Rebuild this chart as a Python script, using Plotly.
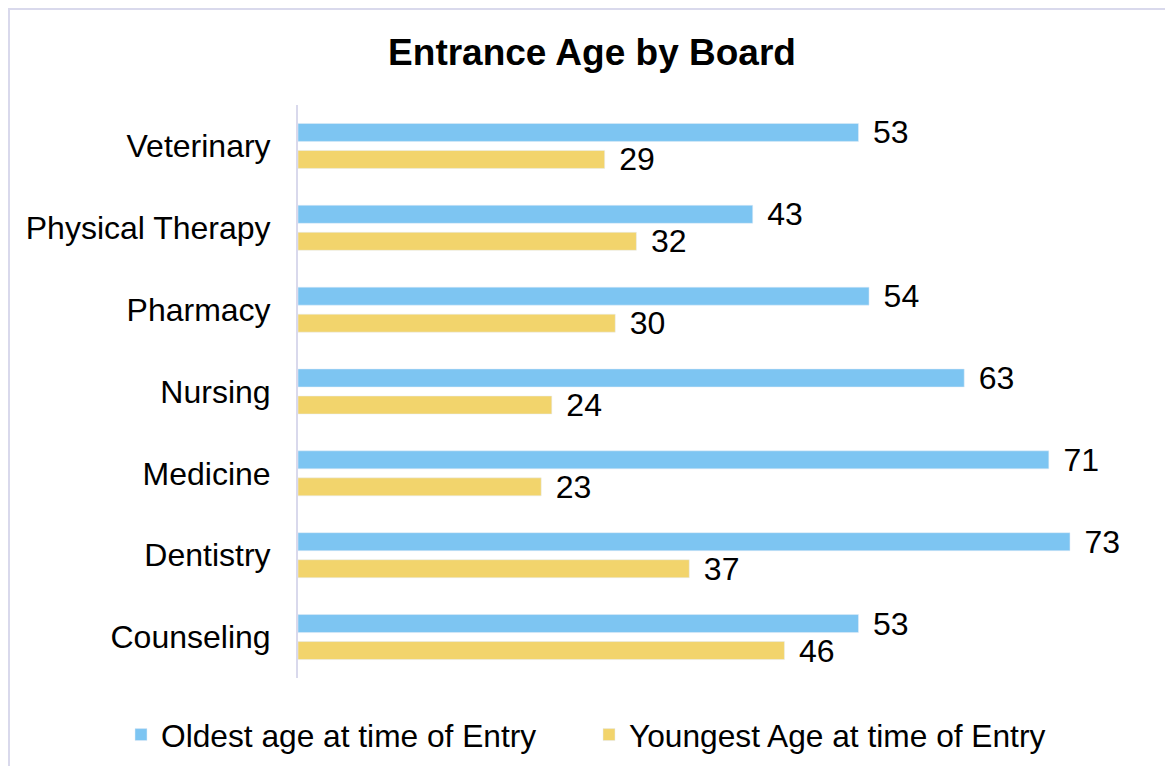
import plotly.graph_objects as go

categories = ["Counseling", "Dentistry", "Medicine", "Nursing", "Pharmacy", "Physical Therapy", "Veterinary"]
oldest = [53, 73, 71, 63, 54, 43, 53]
youngest = [46, 37, 23, 24, 30, 32, 29]
series_names = ["Oldest age at time of Entry", "Youngest Age at time of Entry"]
title_text = "Entrance Age by Board"

BLUE = "#7DC5F2"
YELLOW = "#F2D46C"
FONT = "Liberation Sans, Arial, sans-serif"
FS = 32

W, H = 1173, 766
ML, MR, MT, MB = 290, 37, 97, 96
PW = W - ML - MR
PH = H - MT - MB
LABEL_TPL = "\u00a0\u200a%{x}"

fig = go.Figure()
fig.add_trace(go.Bar(
    y=categories, x=youngest, orientation="h", name=series_names[1],
    marker=dict(color=YELLOW), legendrank=2,
    text=youngest, texttemplate=LABEL_TPL, textposition="outside",
    textfont=dict(size=FS, color="black", family=FONT),
    constraintext="none", cliponaxis=False,
))
fig.add_trace(go.Bar(
    y=categories, x=oldest, orientation="h", name=series_names[0],
    marker=dict(color=BLUE), legendrank=1,
    text=oldest, texttemplate=LABEL_TPL, textposition="outside",
    textfont=dict(size=FS, color="black", family=FONT),
    constraintext="none", cliponaxis=False,
))

fig.add_shape(type="rect", xref="paper", yref="paper",
              x0=(1 - ML) / PW, x1=(W + 20 - ML) / PW,
              y0=-(H + 20 - MT - PH) / PH, y1=1 + (MT - 1) / PH,
              line=dict(color="#D9D9EC", width=2), fillcolor="rgba(0,0,0,0)", layer="below")

fig.update_layout(
    width=W, height=H,
    margin=dict(l=ML, r=MR, t=MT, b=MB),
    paper_bgcolor="white", plot_bgcolor="white",
    barmode="group", bargap=0.34, bargroupgap=0.333,
    font=dict(family=FONT, size=FS, color="black"),
    title=dict(text="<b>" + title_text + "</b>", x=584 / W, xanchor="center",
               y=1 - 44 / H, yanchor="middle", yref="container",
               font=dict(size=37, family=FONT, color="black")),
    xaxis=dict(range=[0, PW / 10.575], showgrid=False, zeroline=False,
               showticklabels=False, showline=False, fixedrange=True),
    yaxis=dict(categoryorder="array", categoryarray=categories,
               range=[-0.5, 6.5], showgrid=False, zeroline=False,
               showline=True, linecolor="#D9D9EC", linewidth=2,
               ticks="", ticklabelstandoff=19,
               tickfont=dict(size=FS, family=FONT, color="black")),
    legend=dict(orientation="h", x=(113 - ML) / PW, xanchor="left",
                y=(MT + PH - 727) / PH, yanchor="middle",
                font=dict(size=31.7, family=FONT, color="black"),
                entrywidth=423, entrywidthmode="pixels",
                bgcolor="rgba(0,0,0,0)"),
    showlegend=True,
)

fig.write_html("out.html")
